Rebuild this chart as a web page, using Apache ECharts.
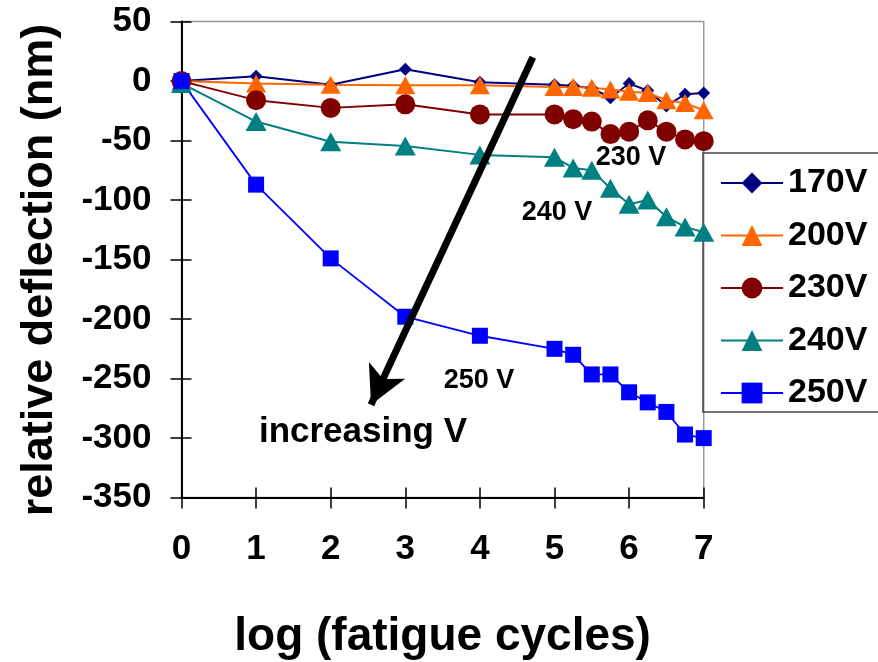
<!DOCTYPE html>
<html>
<head>
<meta charset="utf-8">
<script src="https://cdn.jsdelivr.net/npm/echarts@6/dist/echarts.min.js"></script>
<style>
  html, body { margin: 0; padding: 0; background: #fff; }
  #chart { width: 878px; height: 662px; }
</style>
</head>
<body>
<div id="chart"></div>
<script>
var FONT = '"Liberation Sans", Arial, sans-serif';

// log of fatigue cycles
var logCycles = [0, 1, 2, 3, 4, 5, 5.25, 5.5, 5.75, 6, 6.25, 6.5, 6.75, 7];
// relative deflection (nm)
var v170 = [0, 4, -3, 10, -1, -3, -4, -6, -14, -2, -8, -21, -11, -10];
var v200 = [0, -2, -3, -3.5, -3.5, -5, -5, -5.5, -7, -9, -10, -16, -18.5, -24.5];
var v230 = [0, -16, -22.5, -19.5, -28, -28, -32, -34, -44.5, -42.5, -33, -42.5, -49, -50.5];
var v240 = [-2, -34, -51, -54.5, -62, -64, -73, -75, -90, -103.5, -100, -114, -122.5, -127];
var v250 = [0, -87, -149, -198, -214, -225, -230, -246.5, -246.5, -261.5, -270, -278, -297, -300];

var seriesNames = ['170V', '200V', '230V', '240V', '250V'];

function pairs(ys) {
  return logCycles.map(function (x, i) { return [x, ys[i]]; });
}

var chart = echarts.init(document.getElementById('chart'));

var tickStyle = { color: '#000', width: 1.5 };

var option = {
  animation: false,
  grid: {
    left: 181.5,
    right: 174.3,
    top: 21.6,
    bottom: 164.4,
    outerBoundsMode: 'none',
    containLabel: false,
    show: true,
    borderColor: '#999',
    borderWidth: 1.5
  },
  legend: {
    orient: 'vertical',
    left: 715,
    top: 161,
    itemWidth: 62,
    itemHeight: 26,
    itemGap: 18.5,
    data: seriesNames,
    textStyle: {
      color: '#000',
      fontSize: 34,
      fontWeight: 'bold',
      fontFamily: FONT,
      lineHeight: 34
    }
  },
  xAxis: [{
    type: 'value',
    min: 0,
    max: 7,
    interval: 1,
    name: 'log (fatigue cycles)',
    nameLocation: 'middle',
    nameGap: 117,
    nameTextStyle: { color: '#000', fontSize: 46, fontWeight: 'bold', fontFamily: FONT },
    axisLine: { onZero: false, lineStyle: { color: '#000', width: 2 } },
    axisTick: { length: 11, lineStyle: tickStyle },
    axisLabel: { color: '#000', fontSize: 35, fontWeight: 'bold', fontFamily: FONT, margin: 34 },
    splitLine: { show: false }
  }, {
    type: 'value',
    position: 'bottom',
    min: 0,
    max: 7,
    interval: 1,
    axisLine: { show: false, onZero: false },
    axisTick: { inside: true, length: 10, lineStyle: tickStyle },
    axisLabel: { show: false },
    splitLine: { show: false }
  }],
  yAxis: [{
    type: 'value',
    min: -350,
    max: 50,
    interval: 50,
    axisLine: { show: true, onZero: false, lineStyle: { color: '#000', width: 2 } },
    axisTick: { show: true, length: 11, lineStyle: tickStyle },
    axisLabel: { color: '#000', fontSize: 35, fontWeight: 'bold', fontFamily: FONT, margin: 30 },
    splitLine: { show: false }
  }, {
    type: 'value',
    position: 'left',
    min: -350,
    max: 50,
    interval: 50,
    axisLine: { show: false, onZero: false },
    axisTick: { show: true, inside: true, length: 10, lineStyle: tickStyle },
    axisLabel: { show: false },
    splitLine: { show: false }
  }],
  series: [{
    name: '170V',
    type: 'line',
    data: pairs(v170),
    symbol: 'diamond',
    symbolSize: 13,
    itemStyle: { color: '#000080' },
    lineStyle: { color: '#000080', width: 2 }
  }, {
    name: '200V',
    type: 'line',
    data: pairs(v200),
    symbol: 'triangle',
    symbolSize: [20, 18],
    itemStyle: { color: '#FF6600' },
    lineStyle: { color: '#FF6600', width: 2 }
  }, {
    name: '230V',
    type: 'line',
    data: pairs(v230),
    symbol: 'circle',
    symbolSize: 20,
    itemStyle: { color: '#800000' },
    lineStyle: { color: '#800000', width: 2 }
  }, {
    name: '240V',
    type: 'line',
    data: pairs(v240),
    symbol: 'triangle',
    symbolSize: [21, 19],
    itemStyle: { color: '#008080' },
    lineStyle: { color: '#008080', width: 2 }
  }, {
    name: '250V',
    type: 'line',
    data: pairs(v250),
    symbol: 'rect',
    symbolSize: 16,
    itemStyle: { color: '#0000FF' },
    lineStyle: { color: '#0000FF', width: 1.8 }
  }, {
    // the "increasing V" arrow
    name: 'arrow',
    type: 'line',
    data: [],
    z: 5,
    markLine: {
      silent: true,
      symbol: ['none', 'arrow'],
      symbolSize: [30, 38],
      label: { show: false },
      lineStyle: { color: '#000', width: 7, type: 'solid' },
      data: [[{ coord: [4.71, 20] }, { coord: [2.54, -272] }]]
    }
  }],
  graphic: [{
    type: 'rect',
    shape: { x: 703, y: 153, width: 200, height: 259 },
    style: { fill: 'none', stroke: '#444', lineWidth: 1.5 }
  }, {
    type: 'text',
    x: 40,
    y: 270,
    rotation: Math.PI / 2,
    style: { text: 'relative deflection (nm)', x: 0, y: 0, align: 'center', verticalAlign: 'middle',
      fill: '#000', font: 'bold 45px ' + FONT }
  }, {
    type: 'text',
    style: { text: '230 V', x: 631, y: 158, align: 'center', verticalAlign: 'middle',
      fill: '#000', font: 'bold 27px ' + FONT }
  }, {
    type: 'text',
    style: { text: '240 V', x: 557, y: 213, align: 'center', verticalAlign: 'middle',
      fill: '#000', font: 'bold 27px ' + FONT }
  }, {
    type: 'text',
    style: { text: '250 V', x: 479, y: 381, align: 'center', verticalAlign: 'middle',
      fill: '#000', font: 'bold 27px ' + FONT }
  }, {
    type: 'text',
    style: { text: 'increasing V', x: 363, y: 432, align: 'center', verticalAlign: 'middle',
      fill: '#000', font: 'bold 35px ' + FONT }
  }]
};

chart.setOption(option);
</script>
</body>
</html>
